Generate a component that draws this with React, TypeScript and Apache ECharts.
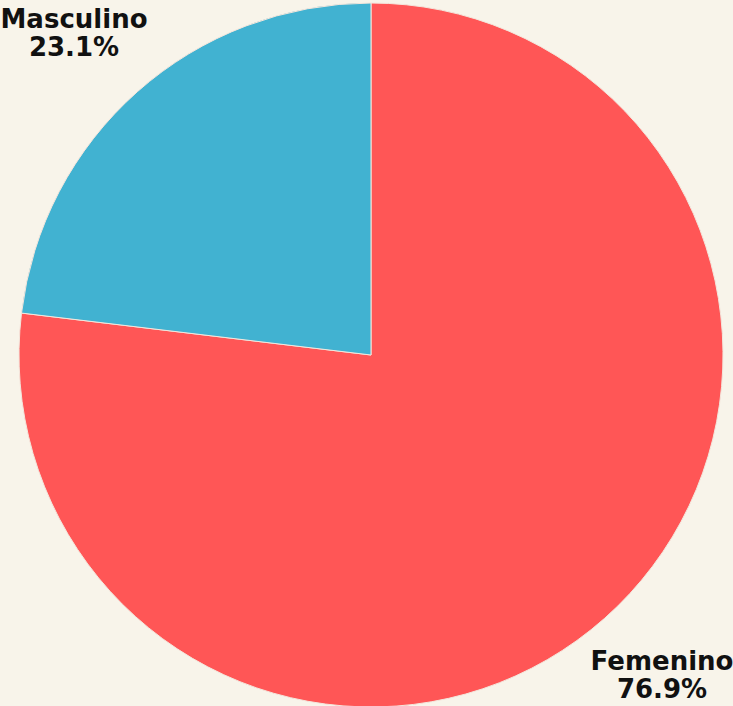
import React, { useEffect, useRef } from "react";
import * as echarts from "echarts";

const categories = ["Femenino", "Masculino"];
const values = [76.9, 23.1];
const colors = ["#FF5656", "#41B2D1"];

export default function App() {
  const ref = useRef<HTMLDivElement>(null);
  useEffect(() => {
    if (!ref.current) return;
    const chart = echarts.init(ref.current, null, { renderer: "svg" });
    const labelPos = [
      { x: 662, y: 675 },
      { x: 74, y: 33 },
    ];
    chart.setOption({
      animation: false,
      backgroundColor: "#F8F4EA",
      graphic: categories.map((c, i) => ({
        type: "text",
        x: labelPos[i].x,
        y: labelPos[i].y,
        z: 10,
        style: {
          text: `${c}\n${values[i].toFixed(1)}%`,
          fontFamily: "DejaVu Sans",
          fontWeight: "bold",
          fontSize: 26,
          lineHeight: 28,
          fill: "#111111",
          align: "center",
          verticalAlign: "middle",
        },
      })),
      series: [
        {
          type: "pie",
          center: [371, 355],
          radius: 352,
          startAngle: 90,
          clockwise: true,
          itemStyle: { borderColor: "#F4E6DC", borderWidth: 1 },
          labelLine: { show: false },
          label: { show: false },
          emphasis: { disabled: true },
          data: categories.map((c, i) => ({
            name: c,
            value: values[i],
            itemStyle: { color: colors[i] },
          })),
        },
      ],
    });
    return () => chart.dispose();
  }, []);
  return (
    <div
      ref={ref}
      style={{ position: "fixed", left: 0, top: 0, width: 733, height: 706 }}
    />
  );
}
